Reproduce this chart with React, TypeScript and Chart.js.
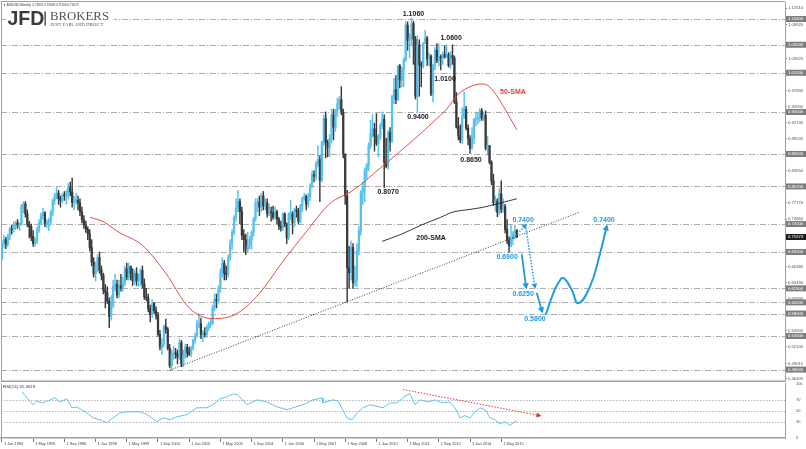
import React, { useEffect, useRef } from "react";
import { Chart, registerables } from "chart.js";

Chart.register(...registerables);

// ---------------- DATA (AUDUSD monthly, Jan 1994 .. Jan 2016, index = months since Jan 1994) ----------------
const monthOpen = [
  0.678, 0.705, 0.712, 0.704, 0.718, 0.731, 0.730, 0.738, 0.742, 0.738, 0.740, 0.772,
  0.776, 0.758, 0.740, 0.735, 0.718, 0.705, 0.710, 0.730, 0.742, 0.755, 0.760, 0.740,
  0.743, 0.745, 0.760, 0.782, 0.790, 0.795, 0.785, 0.782, 0.792, 0.790, 0.795, 0.805,
  0.797, 0.778, 0.780, 0.782, 0.778, 0.762, 0.748, 0.738, 0.730, 0.722, 0.698, 0.672,
  0.651, 0.665, 0.680, 0.658, 0.648, 0.622, 0.618, 0.602, 0.575, 0.595, 0.628, 0.632,
  0.613, 0.630, 0.625, 0.635, 0.660, 0.645, 0.664, 0.652, 0.638, 0.652, 0.638, 0.640,
  0.657, 0.633, 0.610, 0.608, 0.589, 0.578, 0.598, 0.585, 0.576, 0.543, 0.520, 0.525,
  0.557, 0.552, 0.518, 0.487, 0.508, 0.510, 0.508, 0.502, 0.528, 0.490, 0.505, 0.520,
  0.510, 0.508, 0.518, 0.532, 0.540, 0.562, 0.562, 0.542, 0.545, 0.543, 0.555, 0.562,
  0.563, 0.590, 0.605, 0.603, 0.625, 0.652, 0.670, 0.652, 0.650, 0.680, 0.706, 0.725,
  0.752, 0.768, 0.780, 0.762, 0.720, 0.712, 0.695, 0.702, 0.712, 0.725, 0.748, 0.778,
  0.780, 0.770, 0.790, 0.772, 0.778, 0.758, 0.762, 0.760, 0.752, 0.762, 0.748, 0.736,
  0.733, 0.758, 0.740, 0.716, 0.758, 0.758, 0.742, 0.765, 0.763, 0.745, 0.772, 0.785,
  0.789, 0.775, 0.788, 0.808, 0.828, 0.825, 0.848, 0.855, 0.818, 0.886, 0.928, 0.885,
  0.877, 0.893, 0.935, 0.913, 0.943, 0.955, 0.962, 0.940, 0.865, 0.790, 0.662, 0.653,
  0.698, 0.635, 0.640, 0.693, 0.728, 0.795, 0.805, 0.836, 0.845, 0.880, 0.902, 0.910,
  0.897, 0.884, 0.895, 0.916, 0.927, 0.850, 0.843, 0.904, 0.888, 0.967, 0.980, 0.962,
  1.022, 0.997, 1.017, 1.033, 1.095, 1.068, 1.073, 1.098, 1.070, 0.968, 1.060, 1.024,
  1.022, 1.062, 1.072, 1.035, 1.040, 0.972, 1.022, 1.050, 1.032, 1.038, 1.037, 1.043,
  1.038, 1.042, 1.023, 1.041, 1.036, 0.958, 0.913, 0.898, 0.890, 0.932, 0.945, 0.911,
  0.892, 0.875, 0.894, 0.927, 0.928, 0.930, 0.942, 0.929, 0.934, 0.875, 0.880, 0.850,
  0.817, 0.778, 0.781, 0.761, 0.794, 0.766, 0.771, 0.730, 0.711, 0.701, 0.713, 0.723,
  0.72831,
];
const monthHigh = [
  0.710, 0.720, 0.716, 0.722, 0.735, 0.738, 0.744, 0.745, 0.748, 0.742, 0.775, 0.780,
  0.780, 0.765, 0.745, 0.740, 0.728, 0.715, 0.735, 0.748, 0.760, 0.768, 0.762, 0.748,
  0.750, 0.765, 0.785, 0.795, 0.805, 0.800, 0.790, 0.795, 0.798, 0.800, 0.812, 0.815,
  0.822, 0.790, 0.795, 0.790, 0.785, 0.770, 0.755, 0.745, 0.735, 0.730, 0.712, 0.680,
  0.672, 0.685, 0.690, 0.665, 0.652, 0.632, 0.628, 0.608, 0.612, 0.640, 0.650, 0.640,
  0.640, 0.650, 0.645, 0.665, 0.670, 0.670, 0.665, 0.660, 0.658, 0.662, 0.650, 0.660,
  0.665, 0.642, 0.625, 0.615, 0.595, 0.605, 0.600, 0.592, 0.582, 0.550, 0.535, 0.560,
  0.570, 0.555, 0.525, 0.515, 0.522, 0.518, 0.515, 0.535, 0.532, 0.515, 0.525, 0.525,
  0.520, 0.522, 0.535, 0.545, 0.568, 0.580, 0.572, 0.550, 0.555, 0.560, 0.565, 0.570,
  0.595, 0.615, 0.615, 0.630, 0.660, 0.680, 0.675, 0.665, 0.685, 0.712, 0.730, 0.755,
  0.785, 0.800, 0.785, 0.770, 0.730, 0.722, 0.725, 0.718, 0.728, 0.752, 0.785, 0.786,
  0.790, 0.795, 0.798, 0.785, 0.785, 0.775, 0.770, 0.772, 0.770, 0.765, 0.752, 0.745,
  0.760, 0.760, 0.742, 0.760, 0.782, 0.762, 0.768, 0.772, 0.768, 0.775, 0.788, 0.795,
  0.792, 0.795, 0.812, 0.835, 0.835, 0.852, 0.880, 0.862, 0.888, 0.935, 0.940, 0.890,
  0.900, 0.945, 0.945, 0.945, 0.965, 0.968, 0.985, 0.945, 0.865, 0.800, 0.700, 0.710,
  0.705, 0.665, 0.705, 0.735, 0.800, 0.815, 0.840, 0.848, 0.885, 0.925, 0.935, 0.920,
  0.937, 0.900, 0.920, 0.940, 0.935, 0.893, 0.907, 0.912, 0.970, 1.000, 1.005, 1.023,
  1.025, 1.020, 1.037, 1.101, 1.101, 1.080, 1.108, 1.102, 1.075, 1.076, 1.069, 1.030,
  1.065, 1.086, 1.075, 1.045, 1.042, 1.025, 1.055, 1.062, 1.061, 1.042, 1.048, 1.058,
  1.060, 1.046, 1.048, 1.060, 1.040, 0.975, 0.930, 0.917, 0.948, 0.976, 0.950, 0.917,
  0.898, 0.912, 0.928, 0.940, 0.939, 0.946, 0.946, 0.940, 0.942, 0.897, 0.880, 0.853,
  0.829, 0.790, 0.785, 0.803, 0.817, 0.785, 0.775, 0.748, 0.717, 0.738, 0.727, 0.738,
  0.73009,
];
const monthLow = [
  0.676, 0.698, 0.696, 0.700, 0.712, 0.722, 0.725, 0.730, 0.732, 0.728, 0.738, 0.760,
  0.752, 0.735, 0.715, 0.710, 0.700, 0.700, 0.705, 0.725, 0.738, 0.748, 0.735, 0.733,
  0.728, 0.738, 0.755, 0.775, 0.785, 0.775, 0.770, 0.778, 0.782, 0.775, 0.785, 0.790,
  0.770, 0.765, 0.775, 0.765, 0.755, 0.742, 0.732, 0.725, 0.712, 0.692, 0.665, 0.645,
  0.638, 0.655, 0.652, 0.640, 0.615, 0.590, 0.598, 0.555, 0.568, 0.590, 0.620, 0.608,
  0.608, 0.620, 0.620, 0.630, 0.640, 0.640, 0.640, 0.630, 0.632, 0.630, 0.628, 0.630,
  0.625, 0.605, 0.603, 0.583, 0.565, 0.573, 0.580, 0.570, 0.540, 0.515, 0.507, 0.520,
  0.545, 0.515, 0.483, 0.478, 0.498, 0.500, 0.490, 0.498, 0.485, 0.485, 0.500, 0.502,
  0.505, 0.503, 0.515, 0.527, 0.538, 0.555, 0.535, 0.530, 0.538, 0.538, 0.550, 0.555,
  0.560, 0.585, 0.590, 0.598, 0.618, 0.645, 0.640, 0.640, 0.645, 0.675, 0.695, 0.720,
  0.745, 0.762, 0.740, 0.712, 0.690, 0.685, 0.690, 0.695, 0.695, 0.718, 0.745, 0.762,
  0.755, 0.762, 0.765, 0.765, 0.752, 0.755, 0.745, 0.748, 0.750, 0.740, 0.730, 0.727,
  0.728, 0.735, 0.705, 0.712, 0.748, 0.722, 0.735, 0.752, 0.740, 0.742, 0.762, 0.782,
  0.765, 0.770, 0.782, 0.805, 0.815, 0.818, 0.842, 0.780, 0.815, 0.880, 0.858, 0.860,
  0.860, 0.885, 0.890, 0.905, 0.932, 0.945, 0.935, 0.858, 0.775, 0.601, 0.625, 0.640,
  0.625, 0.630, 0.628, 0.685, 0.720, 0.775, 0.780, 0.820, 0.835, 0.875, 0.895, 0.870,
  0.880, 0.860, 0.890, 0.910, 0.805, 0.840, 0.838, 0.870, 0.885, 0.955, 0.955, 0.960,
  0.983, 0.985, 0.985, 1.030, 1.050, 1.037, 1.060, 1.025, 0.963, 0.939, 0.968, 0.985,
  1.018, 1.062, 1.023, 1.022, 0.969, 0.958, 1.015, 1.028, 1.022, 1.015, 1.025, 1.036,
  1.038, 1.020, 1.018, 1.025, 0.955, 0.911, 0.890, 0.885, 0.883, 0.928, 0.908, 0.881,
  0.866, 0.873, 0.883, 0.915, 0.918, 0.922, 0.925, 0.924, 0.872, 0.863, 0.847, 0.810,
  0.773, 0.763, 0.753, 0.756, 0.760, 0.761, 0.724, 0.705, 0.690, 0.699, 0.703, 0.714,
  0.71559,
];
const monthClose = [
  0.705, 0.712, 0.704, 0.718, 0.731, 0.730, 0.738, 0.742, 0.738, 0.740, 0.772, 0.776,
  0.758, 0.740, 0.735, 0.718, 0.705, 0.710, 0.730, 0.742, 0.755, 0.760, 0.740, 0.743,
  0.745, 0.760, 0.782, 0.790, 0.795, 0.785, 0.782, 0.792, 0.790, 0.795, 0.805, 0.797,
  0.778, 0.780, 0.782, 0.778, 0.762, 0.748, 0.738, 0.730, 0.722, 0.698, 0.672, 0.651,
  0.665, 0.680, 0.658, 0.648, 0.622, 0.618, 0.602, 0.575, 0.595, 0.628, 0.632, 0.613,
  0.630, 0.625, 0.635, 0.660, 0.645, 0.664, 0.652, 0.638, 0.652, 0.638, 0.640, 0.657,
  0.633, 0.610, 0.608, 0.589, 0.578, 0.598, 0.585, 0.576, 0.543, 0.520, 0.525, 0.557,
  0.552, 0.518, 0.487, 0.508, 0.510, 0.508, 0.502, 0.528, 0.490, 0.505, 0.520, 0.510,
  0.508, 0.518, 0.532, 0.540, 0.562, 0.562, 0.542, 0.545, 0.543, 0.555, 0.562, 0.563,
  0.590, 0.605, 0.603, 0.625, 0.652, 0.670, 0.652, 0.650, 0.680, 0.706, 0.725, 0.752,
  0.768, 0.780, 0.762, 0.720, 0.712, 0.695, 0.702, 0.712, 0.725, 0.748, 0.778, 0.780,
  0.770, 0.790, 0.772, 0.778, 0.758, 0.762, 0.760, 0.752, 0.762, 0.748, 0.736, 0.733,
  0.758, 0.740, 0.716, 0.758, 0.758, 0.742, 0.765, 0.763, 0.745, 0.772, 0.785, 0.789,
  0.775, 0.788, 0.808, 0.828, 0.825, 0.848, 0.855, 0.818, 0.886, 0.928, 0.885, 0.877,
  0.893, 0.935, 0.913, 0.943, 0.955, 0.962, 0.940, 0.865, 0.790, 0.662, 0.653, 0.698,
  0.635, 0.640, 0.693, 0.728, 0.795, 0.805, 0.836, 0.845, 0.880, 0.902, 0.910, 0.897,
  0.884, 0.895, 0.916, 0.927, 0.850, 0.843, 0.904, 0.888, 0.967, 0.980, 0.962, 1.022,
  0.997, 1.017, 1.033, 1.095, 1.068, 1.073, 1.098, 1.070, 0.968, 1.060, 1.024, 1.022,
  1.062, 1.072, 1.035, 1.040, 0.972, 1.022, 1.050, 1.032, 1.038, 1.037, 1.043, 1.038,
  1.042, 1.023, 1.041, 1.036, 0.958, 0.913, 0.898, 0.890, 0.932, 0.945, 0.911, 0.892,
  0.875, 0.894, 0.927, 0.928, 0.930, 0.942, 0.929, 0.934, 0.875, 0.880, 0.850, 0.817,
  0.778, 0.781, 0.761, 0.794, 0.766, 0.771, 0.730, 0.711, 0.701, 0.713, 0.723, 0.728,
  0.71673,
];

// moving averages (month index, price)
const sma50Idx = [45, 52, 60, 72, 84, 96, 108, 120, 132, 144, 156, 168, 180, 194, 211, 222, 228, 234, 240, 246, 250, 255, 264];
const sma50Val = [0.752, 0.744, 0.725, 0.702, 0.652, 0.590, 0.571, 0.579, 0.616, 0.673, 0.726, 0.776, 0.800, 0.840, 0.890, 0.925, 0.945, 0.972, 0.985, 0.990, 0.985, 0.962, 0.908];
const sma200Idx = [195, 205, 215, 225, 231, 240, 247, 255, 264];
const sma200Val = [0.709, 0.722, 0.738, 0.752, 0.761, 0.766, 0.770, 0.777, 0.785];

// RSI(14)
const rsiIdx = [10.3, 15.9, 17.9, 21, 27.2, 29.7, 33.3, 35.9, 38.5, 43.6, 46.7, 50.3, 53.8, 56.9, 60.5, 64.1, 67.2, 70.8, 74.4, 79.5, 82.6, 86.2, 89.7, 94.9, 100, 105.1, 108.2, 111.8, 115.4, 118.5, 121, 125.6, 130.8, 135.9, 141, 146.2, 149.2, 154.4, 159.5, 164.1, 164.6, 169.7, 172.3, 176.9, 179.5, 182.1, 185.1, 188.7, 193.8, 195.4, 199, 202.6, 206.7, 209.2, 211.8, 214.4, 218.5, 222, 225.6, 229.7, 232.3, 234.9, 237.4, 240, 242.6, 245.1, 247.7, 250.3, 252.8, 255.4, 258, 260.5, 262.1, 264];
const rsiVal = [84.5, 61, 68, 64.5, 73.6, 66, 72, 55.5, 57, 46, 37, 33.6, 28, 37, 46, 48, 48, 48, 43, 30, 37, 33.6, 39, 43, 55.5, 55.5, 61, 72, 75.5, 81, 79, 61, 70, 66, 57, 52, 55.5, 61, 70, 73.6, 64.5, 70, 68, 37, 33.6, 46, 55.5, 61, 57, 55.5, 64.5, 64.5, 77, 81, 61, 70, 66, 70, 64.5, 66, 55.5, 37, 41, 37, 48, 55.5, 52, 37, 33.6, 26, 30, 23, 28, 31.5];
const rsiLevels = [70, 50, 30];
const rsiTicks = [0, 30, 50, 70, 100];
const divIdx = [205.6, 275.9];
const divVal = [89, 41];

// trendline and forecast paths (month index, price)
const trendIdx = [86.2, 296.4];
const trendVal = [0.4792, 0.7614];
const fcDown1Idx = [266.5, 268.8];
const fcDown1Val = [0.686, 0.626];
const fcUpDotIdx = [262.2, 268.6];
const fcUpDotVal = [0.714, 0.7385];
const fcDownDotIdx = [268.6, 273.3];
const fcDownDotVal = [0.734, 0.627];
const fcDown2Idx = [274.2, 277.0];
const fcDown2Val = [0.617, 0.583];
const fcCurveIdx = [278.8, 282.7, 286.2, 288.2, 292.2, 295.5, 301.5, 306.7, 310.1];
const fcCurveVal = [0.5774, 0.6162, 0.6399, 0.643, 0.6221, 0.5983, 0.628, 0.6876, 0.7365];

// key levels (dash-dot lines + highlighted axis labels)
const levelValues = [1.106, 1.06, 1.01, 0.94, 0.865, 0.807, 0.74, 0.69, 0.625, 0.6, 0.58, 0.54, 0.48];
// price axis tick labels
const priceTicks = [1.1251, 1.0962, 1.03525, 0.9783, 0.9494, 0.92135, 0.89245, 0.8355, 0.7777, 0.7486, 0.6638, 0.6349, 0.60595, 0.54905, 0.521, 0.4901, 0.46405];

// text labels on the chart
const annText = ["1.1060", "1.0600", "1.0100", "0.9400", "0.8650", "0.8070", "200-SMA", "50-SMA", "0.7400", "0.6900", "0.6250", "0.5800", "0.7400"];
const annIdx = [211, 230.3, 227.2, 213.3, 240.5, 198, 220, 262, 267.2, 259, 267.2, 273.3, 308.7];
const annVal = [1.115, 1.072, 0.999, 0.931, 0.854, 0.797, 0.715, 0.976, 0.747, 0.681, 0.615, 0.57, 0.747];
const annGroup = ["k", "k", "k", "k", "k", "k", "k", "r", "b", "b", "b", "b", "b"];

// date axis
const dateTickIdx = [0, 16, 32, 48, 64, 80, 96, 112, 128, 144, 160, 176, 192, 208, 224, 240, 256];
const dateTickLabels = ["1 Jan 1994", "1 May 1995", "1 Sep 1996", "1 Jan 1998", "1 May 1999", "1 Sep 2000", "1 Jan 2002", "1 May 2003", "1 Sep 2004", "1 Jan 2006", "1 May 2007", "1 Sep 2008", "1 Jan 2010", "1 May 2011", "1 Sep 2012", "1 Jan 2014", "1 May 2015"];

const headerText = "\u25BC AUDUSD,Monthly  0.72831 0.73009 0.71559 0.71673";
const rsiHeader = "RSI(14) 31.4619";

// ---------------- STYLE ----------------
const X_MIN = -0.5;
const X_MAX = 401.5;
const P_MIN = 0.45957;
const P_MAX = 1.13636;
const BULL = "#56c1ec";
const BEAR = "#3a3a3a";
const BLUE = "#1d9be6";
const RED = "#e23a32";
const FRAME = "#a0a0a0";
const FONT = "'Liberation Sans', Arial, sans-serif";
const annColors: Record<string, string> = { k: "#1a1a1a", r: RED, b: BLUE };

const pts = (xs: number[], ys: number[]) => xs.map((x, i) => ({ x, y: ys[i] }));

function drawArrowHeads(chart: any) {
  const { ctx } = chart;
  chart.data.datasets.forEach((ds: any, i: number) => {
    if (!ds.arrowHead) return;
    const meta = chart.getDatasetMeta(i);
    const d = meta.data;
    if (d.length < 2) return;
    const p1 = d[d.length - 2];
    const p2 = d[d.length - 1];
    const ang = Math.atan2(p2.y - p1.y, p2.x - p1.x);
    const L = ds.arrowHead[0];
    const W = ds.arrowHead[1];
    const c = Math.cos(ang);
    const s = Math.sin(ang);
    const tx = p2.x + c * 1.5;
    const ty = p2.y + s * 1.5;
    ctx.save();
    ctx.fillStyle = ds.borderColor;
    ctx.beginPath();
    ctx.moveTo(tx, ty);
    ctx.lineTo(tx - L * c + W * s, ty - L * s - W * c);
    ctx.lineTo(tx - L * c - W * s, ty - L * s + W * c);
    ctx.closePath();
    ctx.fill();
    ctx.restore();
  });
}

const mainDecor = {
  id: "mainDecor",
  beforeDatasetsDraw(chart: any) {
    const { ctx, chartArea: a } = chart;
    const y = chart.scales.y;
    ctx.save();
    ctx.strokeStyle = "#adadad";
    ctx.lineWidth = 1;
    ctx.setLineDash([6, 2, 1, 2]);
    for (const v of levelValues) {
      const py = Math.round(y.getPixelForValue(v)) + 0.5;
      ctx.beginPath();
      ctx.moveTo(a.left, py);
      ctx.lineTo(a.right, py);
      ctx.stroke();
    }
    ctx.restore();
  },
  afterDatasetsDraw(chart: any) {
    const { ctx } = chart;
    const x = chart.scales.x;
    const y = chart.scales.y;
    drawArrowHeads(chart);
    ctx.save();
    ctx.font = `bold 7px ${FONT}`;
    ctx.textAlign = "center";
    ctx.textBaseline = "middle";
    annText.forEach((t, i) => {
      ctx.fillStyle = annColors[annGroup[i]];
      ctx.fillText(t, x.getPixelForValue(annIdx[i]), y.getPixelForValue(annVal[i]));
    });
    ctx.restore();
  },
  afterDraw(chart: any) {
    const { ctx, chartArea: a } = chart;
    const y = chart.scales.y;
    ctx.save();
    // frame
    ctx.strokeStyle = FRAME;
    ctx.lineWidth = 1;
    ctx.beginPath();
    ctx.moveTo(a.left + 0.5, a.bottom);
    ctx.lineTo(a.left + 0.5, a.top - 0.5);
    ctx.lineTo(a.right, a.top - 0.5);
    ctx.stroke();
    ctx.lineWidth = 2;
    ctx.beginPath();
    ctx.moveTo(a.left, a.bottom + 0.5);
    ctx.lineTo(a.right + 1, a.bottom + 0.5);
    ctx.stroke();
    // header
    ctx.fillStyle = "#333";
    ctx.font = `3px ${FONT}`;
    ctx.textBaseline = "middle";
    ctx.textAlign = "left";
    ctx.fillText(headerText, 3, 5.5);
    // logo
    ctx.fillStyle = "#fff";
    ctx.fillRect(6, 9, 108, 21);
    ctx.fillStyle = "#3b3b3b";
    ctx.textBaseline = "alphabetic";
    ctx.font = `bold 19.5px 'Liberation Sans Narrow', 'Liberation Sans', Arial, sans-serif`;
    ctx.fillText("JFD", 7.5, 25);
    ctx.fillRect(44.5, 11.5, 1.3, 14);
    ctx.fillStyle = "#555";
    ctx.font = `12.8px 'Liberation Serif', 'Times New Roman', serif`;
    ctx.fillText("BROKERS", 50, 19.5);
    ctx.font = `4.8px 'Liberation Serif', 'Times New Roman', serif`;
    ctx.fillText("JUST FAIR AND DIRECT", 50.5, 26);
    // highlighted axis labels
    ctx.font = `4.2px ${FONT}`;
    ctx.textBaseline = "middle";
    const tag = (v: number, bg: string, txt: string) => {
      const py = y.getPixelForValue(v);
      ctx.fillStyle = bg;
      ctx.fillRect(a.right + 1, py - 3, 20, 6);
      ctx.fillStyle = "#fff";
      ctx.fillText(txt, a.right + 3, py + 0.3);
    };
    levelValues.forEach((v) => tag(v, "#7d7d7d", v.toFixed(5)));
    const last = monthClose[monthClose.length - 1];
    tag(last, "#1e1e1e", last.toFixed(5));
    ctx.restore();
  },
};

const rsiDecor = {
  id: "rsiDecor",
  beforeDatasetsDraw(chart: any) {
    const { ctx, chartArea: a } = chart;
    const y = chart.scales.y;
    ctx.save();
    ctx.strokeStyle = "#b5b5b5";
    ctx.lineWidth = 1;
    ctx.setLineDash([1.5, 1.5]);
    for (const v of rsiLevels) {
      const py = Math.round(y.getPixelForValue(v)) + 0.5;
      ctx.beginPath();
      ctx.moveTo(a.left, py);
      ctx.lineTo(a.right, py);
      ctx.stroke();
    }
    ctx.restore();
  },
  afterDatasetsDraw(chart: any) {
    drawArrowHeads(chart);
  },
  afterDraw(chart: any) {
    const { ctx, chartArea: a } = chart;
    ctx.save();
    ctx.strokeStyle = FRAME;
    ctx.lineWidth = 1;
    ctx.beginPath();
    ctx.moveTo(a.left + 0.5, a.top);
    ctx.lineTo(a.left + 0.5, a.bottom);
    ctx.stroke();
    ctx.fillStyle = "#333";
    ctx.font = `4.4px ${FONT}`;
    ctx.textBaseline = "middle";
    ctx.fillText(rsiHeader, 3, 5);
    ctx.restore();
  },
};

const zeroPad = (scale: any) => {
  scale.paddingLeft = 0;
  scale.paddingRight = 0;
  scale.paddingTop = 0;
  scale.paddingBottom = 0;
};

export default function App() {
  const mainRef = useRef<HTMLCanvasElement>(null);
  const rsiRef = useRef<HTMLCanvasElement>(null);

  useEffect(() => {
    const idx = monthClose.map((_, i) => i);
    const colorOf = (ctx: any) => (monthClose[ctx.dataIndex] >= monthOpen[ctx.dataIndex] ? BULL : BEAR);

    const main = new Chart(mainRef.current as HTMLCanvasElement, {
      type: "bar",
      data: {
        datasets: [
          {
            type: "line",
            data: pts(fcCurveIdx, fcCurveVal),
            borderColor: BLUE,
            borderWidth: 2,
            pointRadius: 0,
            tension: 0.45,
            order: 0,
            arrowHead: [6, 3.2],
          } as any,
          {
            type: "line",
            data: pts(fcDown1Idx, fcDown1Val),
            borderColor: BLUE,
            borderWidth: 1.8,
            pointRadius: 0,
            order: 0,
            arrowHead: [6, 3.2],
          } as any,
          {
            type: "line",
            data: pts(fcDown2Idx, fcDown2Val),
            borderColor: BLUE,
            borderWidth: 1.8,
            pointRadius: 0,
            order: 0,
            arrowHead: [6, 3.2],
          } as any,
          {
            type: "line",
            data: pts(fcUpDotIdx, fcUpDotVal),
            borderColor: BLUE,
            borderWidth: 1.5,
            borderDash: [1.5, 1.5],
            pointRadius: 0,
            order: 0,
            arrowHead: [5, 2.8],
          } as any,
          {
            type: "line",
            data: pts(fcDownDotIdx, fcDownDotVal),
            borderColor: BLUE,
            borderWidth: 1.5,
            borderDash: [1.5, 1.5],
            pointRadius: 0,
            order: 0,
            arrowHead: [5, 2.8],
          } as any,
          {
            type: "line",
            data: pts(trendIdx, trendVal),
            borderColor: "#222",
            borderWidth: 0.9,
            borderDash: [1, 1.6],
            pointRadius: 0,
            order: 1,
          } as any,
          {
            type: "line",
            data: pts(sma50Idx, sma50Val),
            borderColor: RED,
            borderWidth: 0.9,
            pointRadius: 0,
            cubicInterpolationMode: "monotone",
            order: 2,
          } as any,
          {
            type: "line",
            data: pts(sma200Idx, sma200Val),
            borderColor: "#222",
            borderWidth: 0.9,
            pointRadius: 0,
            cubicInterpolationMode: "monotone",
            order: 2,
          } as any,
          {
            type: "bar",
            data: idx.map((i) => ({ x: i, y: [monthOpen[i], monthClose[i]] })),
            backgroundColor: colorOf,
            barThickness: 1.6,
            minBarLength: 1,
            grouped: false,
            order: 3,
          } as any,
          {
            type: "bar",
            data: idx.map((i) => ({ x: i, y: [monthLow[i], monthHigh[i]] })),
            backgroundColor: colorOf,
            barThickness: 0.8,
            grouped: false,
            order: 4,
          } as any,
        ],
      },
      options: {
        responsive: false,
        animation: false,
        events: [],
        layout: { padding: { left: 1, top: 2, right: 0, bottom: 1 } },
        plugins: { legend: { display: false }, tooltip: { enabled: false } },
        scales: {
          x: {
            type: "linear",
            min: X_MIN,
            max: X_MAX,
            display: false,
            offset: false,
            grid: { offset: false },
          },
          y: {
            type: "linear",
            position: "right",
            min: P_MIN,
            max: P_MAX,
            afterBuildTicks: (scale: any) => {
              scale.ticks = [...priceTicks].sort((p, q) => p - q).map((v) => ({ value: v }));
            },
            afterFit: (scale: any) => {
              scale.width = 21;
              zeroPad(scale);
            },
            ticks: {
              autoSkip: false,
              padding: 1,
              color: "#555",
              font: { size: 4.2, family: FONT },
              callback: (v: any) => Number(v).toFixed(5),
            },
            grid: { drawOnChartArea: false, drawTicks: true, tickLength: 2, color: "#8c8c8c" },
            border: { display: true, color: FRAME },
          },
        },
      } as any,
      plugins: [mainDecor],
    });

    const rsi = new Chart(rsiRef.current as HTMLCanvasElement, {
      type: "line",
      data: {
        datasets: [
          {
            data: pts(divIdx, divVal),
            borderColor: RED,
            borderWidth: 1,
            borderDash: [1.5, 1.5],
            pointRadius: 0,
            order: 0,
            arrowHead: [5, 2.5],
          } as any,
          {
            data: pts(rsiIdx, rsiVal),
            borderColor: "#4dbdec",
            borderWidth: 0.9,
            pointRadius: 0,
            tension: 0,
            order: 1,
          } as any,
        ],
      },
      options: {
        responsive: false,
        animation: false,
        events: [],
        layout: { padding: { left: 1, top: 1.5, right: 0, bottom: 0 } },
        plugins: { legend: { display: false }, tooltip: { enabled: false } },
        scales: {
          x: {
            type: "linear",
            min: X_MIN,
            max: X_MAX,
            offset: false,
            afterBuildTicks: (scale: any) => {
              scale.ticks = dateTickIdx.map((v) => ({ value: v }));
            },
            afterFit: (scale: any) => {
              scale.height = 11;
              zeroPad(scale);
            },
            ticks: {
              autoSkip: false,
              maxRotation: 0,
              minRotation: 0,
              align: "start",
              labelOffset: 2,
              padding: 0,
              color: "#444",
              font: { size: 3.9, family: FONT },
              callback: (_v: any, i: number) => dateTickLabels[i],
            },
            grid: { drawOnChartArea: false, drawTicks: true, tickLength: 4, color: "#777" },
            border: { display: true, color: FRAME, width: 1.5 },
          },
          y: {
            type: "linear",
            position: "right",
            min: 0,
            max: 100,
            afterBuildTicks: (scale: any) => {
              scale.ticks = rsiTicks.map((v) => ({ value: v }));
            },
            afterFit: (scale: any) => {
              scale.width = 21;
              zeroPad(scale);
            },
            ticks: {
              autoSkip: false,
              padding: 3,
              color: "#555",
              font: { size: 3.9, family: FONT },
              callback: (v: any) => String(v),
            },
            grid: { display: false },
            border: { display: true, color: FRAME },
          },
        },
      } as any,
      plugins: [rsiDecor],
    });

    return () => {
      main.destroy();
      rsi.destroy();
    };
  }, []);

  return (
    <div style={{ position: "absolute", left: 0, top: 0, width: 806, height: 449, background: "#fff", overflow: "hidden" }}>
      <canvas ref={mainRef} width={806} height={382} style={{ position: "absolute", left: 0, top: 0 }} />
      <canvas ref={rsiRef} width={806} height={67} style={{ position: "absolute", left: 0, top: 382 }} />
    </div>
  );
}
